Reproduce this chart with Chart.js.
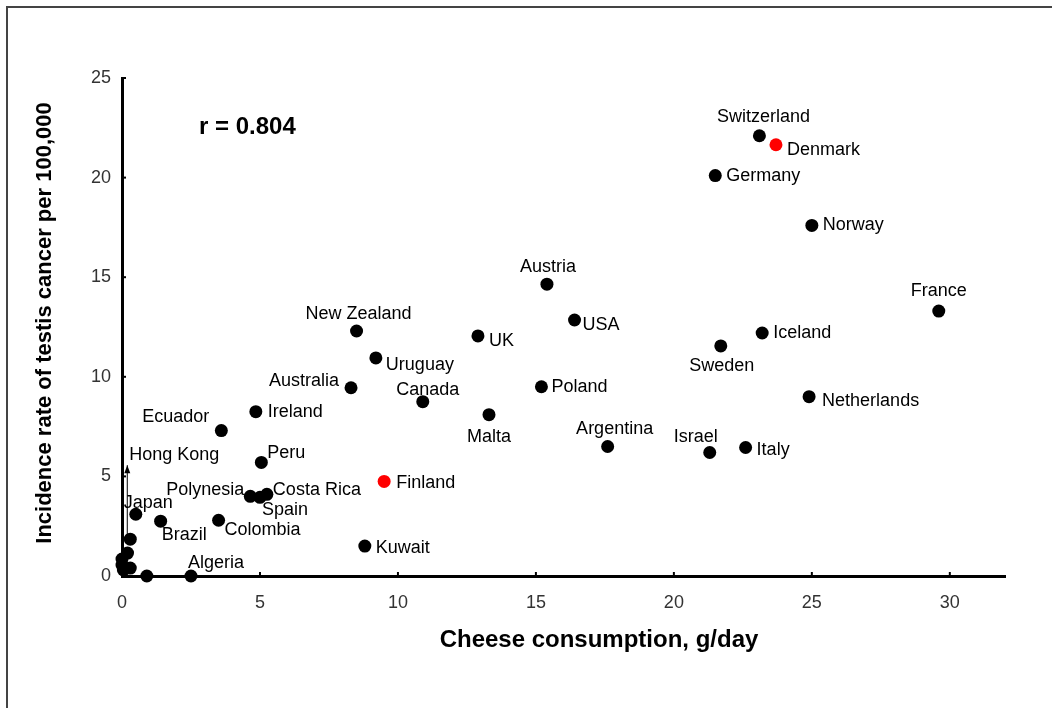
<!DOCTYPE html>
<html>
<head>
<meta charset="utf-8">
<script src="https://cdn.jsdelivr.net/npm/chart.js@4.4.1/dist/chart.umd.min.js"></script>
<style>
  html, body { margin: 0; padding: 0; background: #fff; }
  #wrap { width: 1052px; height: 708px; }
</style>
</head>
<body>
<div id="wrap"><canvas id="chart" width="1052" height="708"></canvas></div>
<script>
// ============================================================
// DATA — cheese consumption (g/day) vs testis cancer incidence
// ============================================================
const COUNTRIES = [
  'Switzerland', 'Denmark', 'Germany', 'Norway', 'France', 'Austria', 'USA',
  'Iceland', 'Sweden', 'New Zealand', 'UK', 'Uruguay', 'Australia', 'Canada',
  'Poland', 'Netherlands', 'Ireland', 'Malta', 'Ecuador', 'Argentina', 'Israel',
  'Italy', 'Peru', 'Finland', 'Polynesia', 'Spain', 'Costa Rica', 'Japan',
  'Brazil', 'Colombia', 'Hong Kong', 'Kuwait', 'Algeria'
];
const CHEESE = [
  23.1, 23.7, 21.5, 25.0, 29.6, 15.4, 16.4,
  23.2, 21.7, 8.5, 12.9, 9.2, 8.3, 10.9,
  15.2, 24.9, 4.85, 13.3, 3.6, 17.6, 21.3,
  22.6, 5.05, 9.5, 4.65, 5.0, 5.25, 0.5,
  1.4, 3.5, 0.3, 8.8, 2.5
];
const INCIDENCE = [
  22.1, 21.65, 20.1, 17.6, 13.3, 14.65, 12.85,
  12.2, 11.55, 12.3, 12.05, 10.95, 9.45, 8.75,
  9.5, 9.0, 8.25, 8.1, 7.3, 6.5, 6.2,
  6.45, 5.7, 4.75, 4.0, 3.95, 4.1, 3.1,
  2.75, 2.8, 1.85, 1.5, 0
];
// countries shown in red
const HIGHLIGHT = ['Denmark', 'Finland'];

// unlabelled countries bunched near the origin
const OTHER_CHEESE = [0.9, 0.2, 0.0, 0.0, 0.3, 0.05];
const OTHER_INCIDENCE = [0, 1.15, 0.85, 0.55, 0.4, 0.3];

const X_TICKS = [0, 5, 10, 15, 20, 25, 30];
const Y_TICKS = [0, 5, 10, 15, 20, 25];
const X_TITLE = 'Cheese consumption, g/day';
const Y_TITLE = 'Incidence rate of testis cancer per 100,000';
const R_TEXT = 'r = 0.804';

// ============================================================
// LAYOUT — where each country's name sits next to its dot
// [textAlign, dx, dy] in px from the dot centre
// ============================================================
const LABEL_PLACE = {
  'Switzerland': ['center', 4, -19],
  'Denmark': ['left', 11, 5],
  'Germany': ['left', 11, 0],
  'Norway': ['left', 11, 0],
  'France': ['center', 0, -20],
  'Austria': ['center', 1, -17],
  'USA': ['left', 8, 5],
  'Iceland': ['left', 11, 0],
  'Sweden': ['center', 1, 20],
  'New Zealand': ['center', 2, -17],
  'UK': ['left', 11, 5],
  'Uruguay': ['left', 10, 7],
  'Australia': ['right', -12, -7],
  'Canada': ['center', 5, -12],
  'Poland': ['left', 10, 0],
  'Netherlands': ['left', 13, 4],
  'Ireland': ['left', 12, 0],
  'Malta': ['center', 0, 22],
  'Ecuador': ['right', -12, -14],
  'Argentina': ['center', 7, -17],
  'Israel': ['center', -14, -15],
  'Italy': ['left', 11, 3],
  'Peru': ['left', 6, -9],
  'Finland': ['left', 12, 2],
  'Polynesia': ['right', -6, -6],
  'Spain': ['left', 2, 13],
  'Costa Rica': ['left', 6, -4],
  'Japan': ['left', -12, -11],
  'Brazil': ['left', 1, 14],
  'Colombia': ['left', 6, 10],
  'Hong Kong': ['left', -1, -84, true],
  'Kuwait': ['left', 11, 2],
  'Algeria': ['left', -3, -13]
};

const FONT = 'Arial, "Liberation Sans", sans-serif';

// ============================================================
// PLUGIN — frame, inward tick stubs, point labels, annotations
// ============================================================
const decorPlugin = {
  id: 'decor',
  beforeDraw(chart) {
    const { ctx } = chart;
    ctx.save();
    ctx.strokeStyle = '#444';
    ctx.lineWidth = 2;
    ctx.beginPath();
    ctx.moveTo(7, 708);
    ctx.lineTo(7, 7);
    ctx.lineTo(1052, 7);
    ctx.stroke();
    ctx.restore();
  },
  afterDraw(chart) {
    const { ctx, chartArea, scales } = chart;
    ctx.save();

    // small tick stubs pointing into the plot
    ctx.strokeStyle = '#000';
    ctx.lineWidth = 2;
    X_TICKS.forEach(v => {
      const x = scales.x.getPixelForValue(v);
      ctx.beginPath();
      ctx.moveTo(x, chartArea.bottom);
      ctx.lineTo(x, chartArea.bottom - 4);
      ctx.stroke();
    });
    Y_TICKS.forEach(v => {
      const y = scales.y.getPixelForValue(v);
      ctx.beginPath();
      ctx.moveTo(chartArea.left, y);
      ctx.lineTo(chartArea.left + 4, y);
      ctx.stroke();
    });

    // country names
    const meta = chart.getDatasetMeta(0);
    ctx.font = '18px ' + FONT;
    ctx.fillStyle = '#000';
    ctx.textBaseline = 'middle';
    COUNTRIES.forEach((name, i) => {
      const pt = meta.data[i];
      const [align, dx, dy, arrow] = LABEL_PLACE[name];
      ctx.textAlign = align;
      ctx.fillText(name, pt.x + dx, pt.y + dy);
      if (arrow) {
        const ax = pt.x - 3;
        const tip = pt.y + dy + 10;
        ctx.lineWidth = 1;
        ctx.beginPath();
        ctx.moveTo(ax, pt.y - 2);
        ctx.lineTo(ax, tip);
        ctx.stroke();
        ctx.beginPath();
        ctx.moveTo(ax, tip);
        ctx.lineTo(ax - 3, tip + 8);
        ctx.lineTo(ax + 3, tip + 8);
        ctx.closePath();
        ctx.fill();
      }
    });

    // correlation note
    ctx.font = 'bold 24px ' + FONT;
    ctx.textAlign = 'left';
    ctx.fillText(R_TEXT, 199, 127);

    // axis titles
    ctx.font = 'bold 24px ' + FONT;
    ctx.textAlign = 'center';
    ctx.fillText(X_TITLE, 599, 640);
    ctx.translate(45, 323);
    ctx.rotate(-Math.PI / 2);
    ctx.font = 'bold 22px ' + FONT;
    ctx.fillText(Y_TITLE, 0, 0);
    ctx.restore();
  }
};

// ============================================================
// CHART
// ============================================================
const tickFont = { family: FONT, size: 18 };

new Chart(document.getElementById('chart'), {
  type: 'scatter',
  data: {
    datasets: [
      {
        data: COUNTRIES.map((_, i) => ({ x: CHEESE[i], y: INCIDENCE[i] })),
        pointBackgroundColor: COUNTRIES.map(c => HIGHLIGHT.includes(c) ? '#ff0000' : '#000'),
        pointRadius: 6.5,
        pointHoverRadius: 6.5,
        pointBorderWidth: 0,
        clip: false
      },
      {
        data: OTHER_CHEESE.map((x, i) => ({ x, y: OTHER_INCIDENCE[i] })),
        pointBackgroundColor: '#000',
        pointRadius: 6.5,
        pointHoverRadius: 6.5,
        pointBorderWidth: 0,
        clip: false
      }
    ]
  },
  options: {
    responsive: false,
    animation: false,
    layout: { padding: { top: 78, right: 47, bottom: 0, left: 0 } },
    plugins: { legend: { display: false }, tooltip: { enabled: false } },
    scales: {
      x: {
        type: 'linear',
        min: 0,
        max: 32,
        afterBuildTicks: s => { s.ticks = X_TICKS.map(v => ({ value: v })); },
        afterFit: s => { s.height = 132; },
        grid: { display: false, drawTicks: false },
        border: { display: true, color: '#000', width: 3 },
        ticks: { font: tickFont, color: '#333', padding: 16, maxRotation: 0 }
      },
      y: {
        type: 'linear',
        min: 0,
        max: 25,
        afterBuildTicks: s => { s.ticks = Y_TICKS.map(v => ({ value: v })); },
        afterFit: s => { s.width = 122; },
        grid: { display: false, drawTicks: false },
        border: { display: true, color: '#000', width: 3 },
        ticks: { font: tickFont, color: '#333', padding: 11 }
      }
    }
  },
  plugins: [decorPlugin]
});
</script>
</body>
</html>
